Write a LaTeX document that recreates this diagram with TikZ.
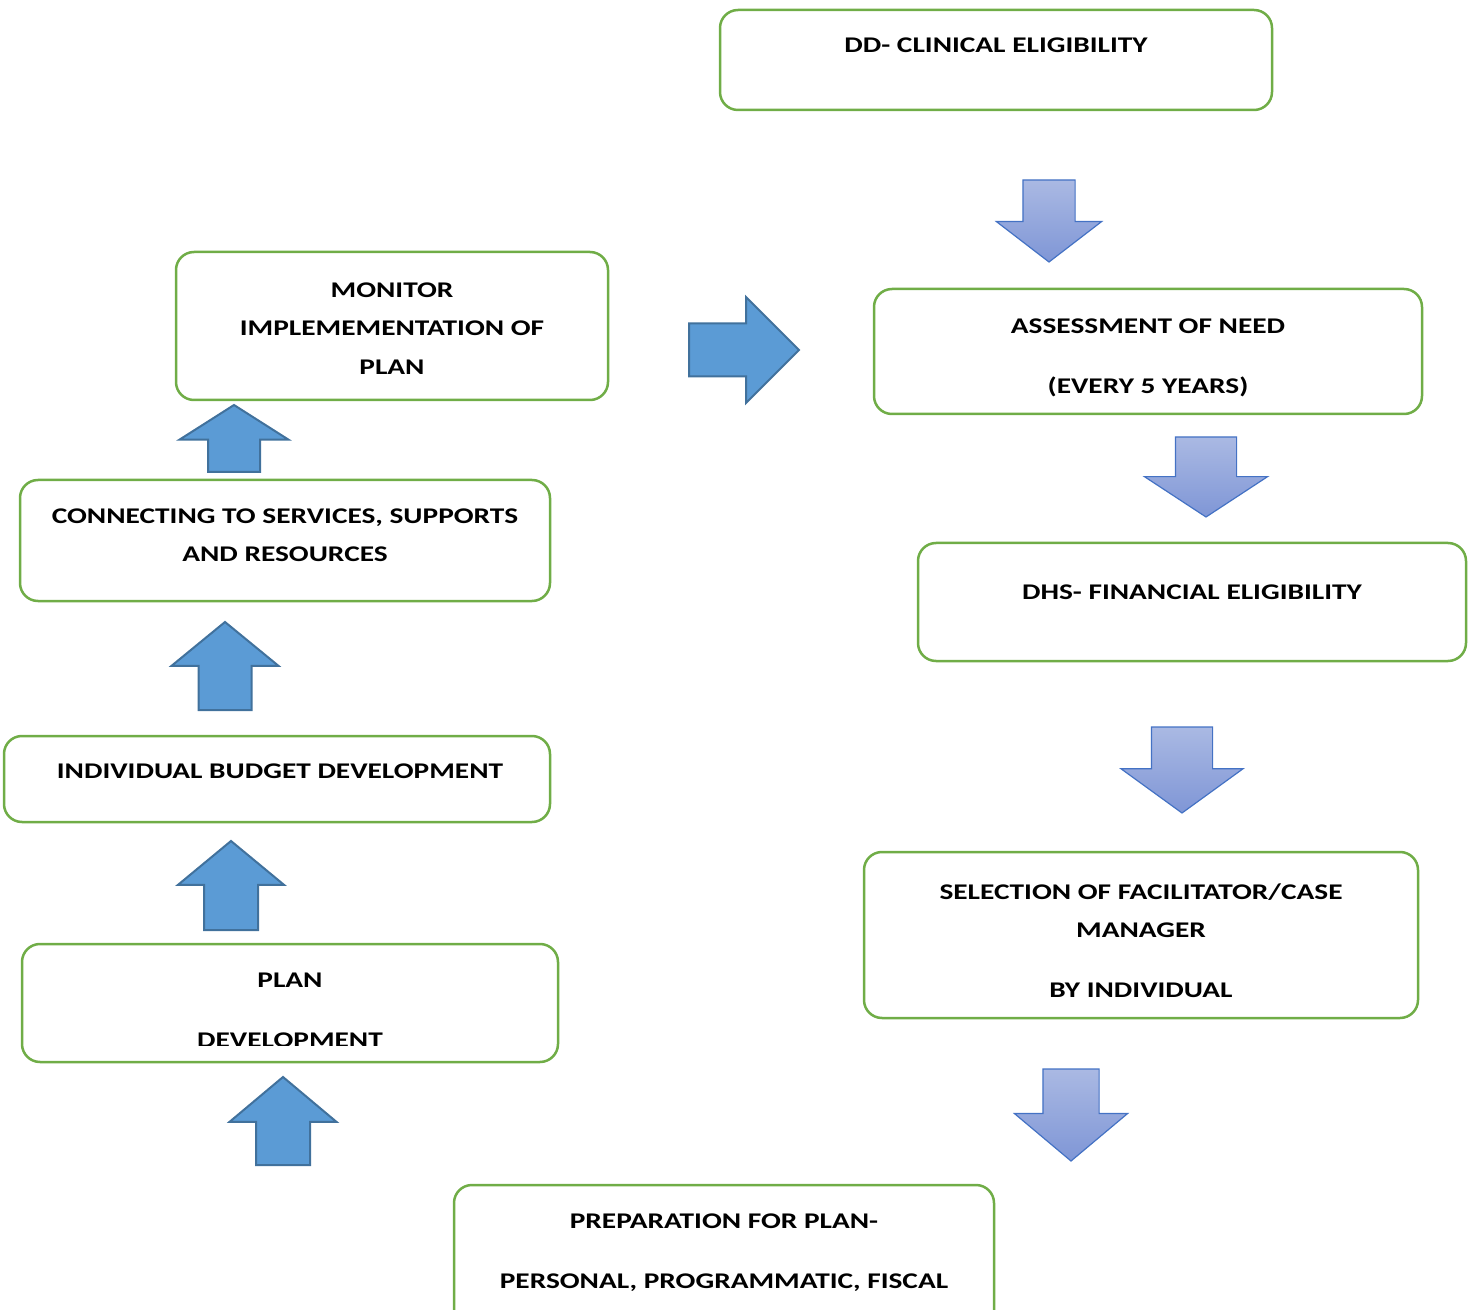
\documentclass[tikz,border=0pt]{standalone}
\usepackage{fontspec}
\setmainfont{Carlito}[FakeStretch=1.31]
\usepackage{xcolor}
\usepackage{tikz}
\usetikzlibrary{shapes.arrows, fit}

\definecolor{boxgreen}{HTML}{70AD47}
\definecolor{arrowblue}{HTML}{5B9BD5}
\definecolor{arrowedge}{HTML}{41719C}
\definecolor{downtop}{HTML}{AAB9E3}
\definecolor{downbot}{HTML}{7F96D6}
\definecolor{downedge}{HTML}{4472C4}

\begin{document}
\begin{tikzpicture}[x=0.5pt, y=-0.5pt,
  box/.style={draw=boxgreen, line width=1.25pt, rounded corners=9pt, inner sep=0pt},
  lbl/.style={font=\fontsize{11.2}{19.25}\selectfont\bfseries, align=center, inner sep=0pt, anchor=north},
  arrowdims/.style n args={4}{minimum height=#1, inner ysep=#2, single arrow head extend=#3, single arrow tip angle=#4},
  blockarrow/.style={single arrow, inner xsep=0pt, outer sep=0pt, anchor=tip},
  bluearrow/.style={blockarrow, fill=arrowblue, draw=arrowedge, line width=1pt},
  downarrow/.style={blockarrow, rotate=-90, top color=downtop, bottom color=downbot, draw=downedge, line width=0.6pt}]
  \clip (0,0) rectangle (1473,1310);

  % right column
  \node[box, fit={(720,10) (1272,110)}] (dd) {};
  \node[lbl] (ddtext) at (996,37) {DD- CLINICAL ELIGIBILITY};
  \node[downarrow, arrowdims={41pt}{12.75pt}{13.25pt}{104.9}] (arrassess) at (1049,262) {};

  \node[box, fit={(874,289) (1422,414)}] (assess) {};
  \node[lbl] (assesstext) at (1148,318) {ASSESSMENT OF NEED\\[10.75pt](EVERY 5 YEARS)};
  \node[downarrow, arrowdims={40pt}{15pt}{15.5pt}{113.5}] (arrdhs) at (1206,517) {};

  \node[box, fit={(918,543) (1466,661)}] (dhs) {};
  \node[lbl] (dhstext) at (1192,584) {DHS- FINANCIAL ELIGIBILITY};
  \node[downarrow, arrowdims={43pt}{15pt}{15.25pt}{108.1}] (arrselect) at (1182,813) {};

  \node[box, fit={(864,852) (1418,1018)}] (select) {};
  \node[lbl] (selecttext) at (1141,883) {SELECTION OF FACILITATOR/CASE\\MANAGER\\[10.75pt]BY INDIVIDUAL};
  \node[downarrow, arrowdims={46pt}{13.75pt}{14.25pt}{100}] (arrprep) at (1071,1161) {};

  \node[box, fit={(454,1185) (994,1340)}] (prep) {};
  \node[lbl] (preptext) at (724,1213) {PREPARATION FOR PLAN-\\[10.75pt]PERSONAL, PROGRAMMATIC, FISCAL};

  % left column, bottom to top
  \node[bluearrow, rotate=90, arrowdims={44pt}{13pt}{13.25pt}{100}] (arrplan) at (283,1077) {};
  \node[box, fit={(22,944) (558,1062)}] (plan) {};
  \begin{scope}
    \clip (0,940) rectangle (1473,1045);
    \node[lbl] (plantext) at (290,973) {PLAN\\[10.75pt]DEVELOPMENT};
  \end{scope}
  \node[bluearrow, rotate=90, arrowdims={44.5pt}{13pt}{13pt}{100.8}] (arrbudget) at (231,841) {};

  \node[box, fit={(4,736) (550,822)}] (budget) {};
  \node[lbl] (budgettext) at (280,763) {INDIVIDUAL BUDGET DEVELOPMENT};
  \node[bluearrow, rotate=90, arrowdims={44pt}{12.75pt}{13.5pt}{101.3}] (arrconnect) at (225,622) {};

  \node[box, fit={(20,480) (550,601)}] (connect) {};
  \node[lbl] (connecttext) at (285,508) {CONNECTING TO SERVICES, SUPPORTS\\AND RESOURCES};
  \node[bluearrow, rotate=90, arrowdims={33.5pt}{12.5pt}{14.25pt}{115.1}] (arrmonitor) at (234,405) {};

  \node[box, fit={(176,252) (608,400)}] (monitor) {};
  \node[lbl] (monitortext) at (392,282) {MONITOR\\IMPLEMEMENTATION OF\\PLAN};
  \node[bluearrow, arrowdims={55pt}{12.75pt}{13.25pt}{90}] (arrrestart) at (799,350) {};
\end{tikzpicture}
\end{document}
